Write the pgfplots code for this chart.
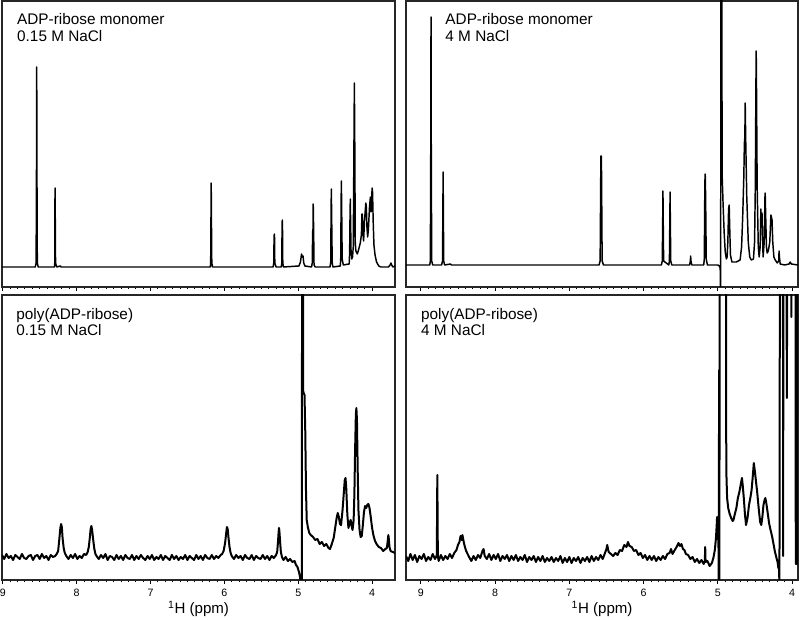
\documentclass[border=0pt]{standalone}
\usepackage{fontspec}
\setmainfont{Liberation Sans}
\usepackage{pgfplots}
\pgfplotsset{compat=1.18}

\pgfplotsset{
  nmr/.style={
    scale only axis,
    x dir=reverse,
    ymin=0,
    ytick=\empty,
    xtick={4,5,6,7,8,9},
    minor x tick num=9,
    xtick pos=left,
    tick align=outside,
    major tick length=3pt,
    minor tick length=1.6pt,
    axis line style={line width=0.9pt, black!85},
    every tick/.style={black, line width=0.6pt},
    /pgf/number format/assume math mode=true,
    xticklabel style={font=\fontsize{8}{9}\selectfont},
    xlabel style={at={(axis description cs:0.5,0)}, anchor=base, yshift=-25.5pt,
      font=\fontsize{11.3}{13}\selectfont},
    cycle list={{black, mark=none}},
  },
}
\tikzset{lbl/.style={anchor=north west, align=left, inner sep=0pt,
    font=\fontsize{11.5}{12.6}\selectfont}}

\begin{document}
\begin{tikzpicture}
\useasboundingbox (0,0) rectangle (600pt,465pt);

% top left: monomer, 0.15 M NaCl
\begin{axis}[nmr, at={(1.5pt,249.75pt)}, anchor=south west,
  width=294.75pt, height=214.5pt, xmin=3.69, xmax=9.01, ymax=286,
  xticklabels={}]
\addplot[black, line width=1.1pt, line join=round] coordinates {
(9.01,20)(8.70,20)(8.56,20)(8.548,24)(8.543,120)(8.540,220)(8.537,120)(8.532,24)(8.52,20)
(8.30,20)(8.296,24)(8.294,70)(8.292,99)(8.289,70)(8.285,24)(8.27,20)(8.22,21)(8.21,20)
(6.19,20)(6.185,24)(6.181,70)(6.178,104)(6.175,70)(6.17,24)(6.16,20)
(5.34,20)(5.331,24)(5.327,50)(5.324,53)(5.321,50)(5.317,24)(5.30,20)
(5.23,20)(5.222,24)(5.219,60)(5.216,67)(5.213,60)(5.209,24)(5.20,20)
(4.99,21)(4.97,25)(4.955,33)(4.945,30)(4.935,31)(4.925,24)(4.91,21)
(4.82,20)(4.81,24)(4.805,55)(4.800,58)(4.797,83)(4.792,60)(4.786,22)(4.77,20)
(4.57,20)(4.56,25)(4.555,75)(4.552,98)(4.548,75)(4.54,24)(4.53,20)
(4.43,21)(4.424,30)(4.420,80)(4.416,106)(4.412,80)(4.405,28)(4.39,22)
(4.31,23)(4.304,35)(4.299,70)(4.295,88)(4.291,65)(4.285,35)(4.275,28)(4.265,30)
(4.255,40)(4.245,150)(4.240,204)(4.235,150)(4.228,45)(4.22,36)(4.20,33)(4.18,38)
(4.16,44)(4.145,52)(4.137,73)(4.132,73)(4.125,55)(4.115,46)(4.103,66)(4.085,84)
(4.078,80)(4.07,60)(4.06,50)(4.05,58)(4.035,80)(4.023,90)(4.015,75)(4.008,82)
(4.000,99)(3.994,95)(3.985,65)(3.975,42)(3.96,32)(3.94,25)(3.91,21)(3.88,20)
(3.78,20)(3.755,22)(3.745,24)(3.735,22)(3.72,20)(3.69,21)
};
\node[lbl] at (rel axis cs:0.038,0.958) {ADP-ribose monomer\\0.15 M NaCl};
\end{axis}

% top right: monomer, 4 M NaCl
\begin{axis}[nmr, at={(304.5pt,249.75pt)}, anchor=south west,
  width=294pt, height=214.5pt, xmin=3.92, xmax=9.20, ymax=286,
  xticklabels={}]
\addplot[black, line width=1.1pt, line join=round] coordinates {
(9.20,22)(8.88,22)(8.872,26)(8.866,150)(8.863,270)(8.860,150)(8.854,26)(8.84,22)
(8.72,22)(8.708,26)(8.703,80)(8.700,115)(8.697,80)(8.692,26)(8.68,22)
(8.60,23)(8.59,22)
(6.60,22)(6.585,26)(6.578,100)(6.575,131)(6.571,125)(6.568,131)(6.565,100)(6.558,26)(6.54,22)
(5.76,22)(5.748,26)(5.742,70)(5.739,96)(5.736,70)(5.730,26)
(5.66,22)(5.652,26)(5.646,70)(5.643,95)(5.640,70)(5.634,26)(5.62,22)
(5.38,22)(5.37,26)(5.366,31)(5.362,26)(5.35,22)
(5.19,22)(5.182,28)(5.176,90)(5.172,113)(5.168,110)(5.163,80)(5.156,28)(5.14,22)
(5.00,22)(4.98,21)(4.968,19)(4.962,-10)(4.958,320)(4.948,320)(4.941,110)(4.93,85)
(4.915,55)(4.90,35)(4.885,28)(4.875,30)(4.865,45)(4.855,78)(4.847,82)(4.84,60)
(4.83,32)(4.81,25)(4.75,25)(4.70,27)(4.68,40)(4.665,70)(4.65,110)(4.642,144)
(4.636,150)(4.631,184)(4.625,150)(4.61,90)(4.59,45)(4.57,30)(4.55,27)(4.52,28)
(4.505,45)(4.495,100)(4.487,200)(4.483,236)(4.479,200)(4.47,100)(4.455,40)(4.443,30)
(4.43,40)(4.42,78)(4.412,60)(4.405,74)(4.398,50)(4.39,30)(4.375,45)(4.365,90)
(4.362,94)(4.355,70)(4.345,40)(4.335,34)(4.32,36)(4.30,45)(4.285,72)(4.278,70)
(4.27,67)(4.26,45)(4.245,30)(4.227,27)(4.20,24)(4.18,26)(4.175,36)(4.17,30)
(4.16,23)(4.10,22)(4.04,23)(4.025,25)(4.01,23)(3.92,22)
};
\node[lbl] at (rel axis cs:0.1,0.958) {ADP-ribose monomer\\4 M NaCl};
\end{axis}

% bottom left: polymer, 0.15 M NaCl
\begin{axis}[nmr, at={(1.5pt,30pt)}, anchor=south west,
  width=294.75pt, height=213.75pt, xmin=3.69, xmax=9.01, ymax=285,
  xlabel={\textsuperscript{1}H (ppm)}]
\addplot[black, line width=1.5pt, line join=round] coordinates {
(9.01,25)(8.98,21)(8.95,26)(8.92,22)(8.89,24)(8.86,20)(8.83,25)(8.80,23)(8.77,21)
(8.74,26)(8.71,22)(8.68,21)(8.65,24)(8.62,25)(8.59,20)(8.56,24)(8.53,25)(8.50,21)
(8.47,26)(8.44,22)(8.41,24)(8.38,20)(8.35,25)(8.32,23)(8.29,24)
(8.27,26)(8.25,29)(8.235,40)(8.22,52)(8.21,56)(8.20,53)(8.19,42)(8.175,32)(8.16,27)(8.14,24)
(8.11,21)(8.08,25)(8.05,22)(8.02,26)(7.99,21)(7.96,24)(7.93,22)(7.90,26)(7.87,25)
(7.85,28)(7.835,33)(7.82,43)(7.81,51)(7.80,54)(7.79,50)(7.775,40)(7.76,31)(7.745,26)(7.73,24)
(7.70,21)(7.67,25)(7.64,22)(7.61,26)(7.58,20)(7.55,24)(7.52,23)(7.49,20)(7.46,25)
(7.43,21)(7.40,24)(7.37,20)(7.34,25)(7.31,22)(7.28,21)(7.25,25)(7.22,20)(7.19,24)
(7.16,21)(7.13,25)(7.10,22)(7.07,20)(7.04,24)(7.01,21)(6.98,25)(6.95,20)(6.92,23)
(6.89,21)(6.86,25)(6.83,20)(6.80,24)(6.77,22)(6.74,20)(6.71,25)(6.68,21)(6.65,24)
(6.62,20)(6.59,23)(6.56,21)(6.53,25)(6.50,20)(6.47,24)(6.44,22)(6.41,20)(6.38,25)
(6.35,21)(6.32,24)(6.29,20)(6.26,25)(6.23,22)(6.20,21)(6.17,25)(6.14,21)(6.11,24)
(6.08,22)(6.05,25)
(6.03,26)(6.01,29)(5.99,37)(5.975,47)(5.965,53)(5.955,51)(5.945,43)(5.93,33)(5.915,27)(5.90,24)
(5.87,21)(5.84,25)(5.81,22)(5.78,24)(5.75,20)(5.72,25)(5.69,22)(5.66,21)(5.63,25)
(5.60,20)(5.57,24)(5.54,22)(5.51,21)(5.48,25)(5.45,21)(5.42,24)(5.39,20)(5.36,24)
(5.33,22)(5.30,25)
(5.285,28)(5.275,37)(5.265,48)(5.26,52)(5.255,49)(5.245,38)(5.235,28)(5.22,23)
(5.20,20)(5.17,23)(5.14,19)(5.11,21)(5.08,18)(5.05,19)(5.03,15)(5.01,13)(4.99,8)
(4.975,3)(4.962,-10)(4.952,-10)(4.948,300)(4.935,300)(4.932,188)(4.915,185)(4.905,150)
(4.895,90)(4.885,60)(4.87,53)(4.85,47)(4.83,45)(4.80,43)(4.77,40)(4.74,41)(4.71,36)
(4.68,38)(4.65,34)(4.62,36)(4.59,32)(4.57,31)(4.55,35)(4.52,42)(4.50,52)(4.48,62)
(4.465,67)(4.45,63)(4.435,56)(4.42,55)(4.40,70)(4.38,90)(4.37,100)(4.36,102)(4.35,92)
(4.335,65)(4.32,52)(4.30,58)(4.29,60)(4.28,55)(4.265,50)(4.25,60)(4.24,85)(4.23,130)
(4.22,165)(4.213,172)(4.205,160)(4.195,110)(4.185,70)(4.17,50)(4.155,43)(4.14,44)
(4.125,55)(4.11,68)(4.095,74)(4.08,72)(4.065,75)(4.05,76)(4.035,72)(4.02,64)(4.00,52)
(3.98,44)(3.96,39)(3.94,36)(3.91,33)(3.88,32)(3.85,29)(3.82,31)(3.80,32)(3.79,38)
(3.78,45)(3.775,42)(3.765,33)(3.75,29)(3.72,28)(3.69,27)
};
\node[lbl] at (rel axis cs:0.036,0.955) {poly(ADP-ribose)\\0.15 M NaCl};
\end{axis}

% bottom right: polymer, 4 M NaCl
\begin{axis}[nmr, at={(304.5pt,30pt)}, anchor=south west,
  width=294pt, height=213.75pt, xmin=3.92, xmax=9.20, ymax=285,
  xlabel={\textsuperscript{1}H (ppm)}]
\addplot[black, line width=1.5pt, line join=round] coordinates {
(9.20,24)(9.17,19)(9.14,26)(9.11,20)(9.08,25)(9.05,18)(9.02,24)(8.99,21)(8.96,26)
(8.93,19)(8.90,23)(8.87,20)(8.84,26)(8.81,21)(8.795,23)
(8.785,25)(8.781,70)(8.778,105)(8.775,70)(8.771,24)
(8.76,19)(8.73,25)(8.70,20)(8.67,24)(8.64,21)(8.61,26)(8.58,22)(8.55,27)
(8.52,30)(8.50,35)(8.48,38)(8.465,44)(8.45,40)(8.44,45)(8.425,39)(8.41,34)(8.39,29)
(8.37,26)(8.35,23)
(8.32,19)(8.29,24)(8.26,20)(8.23,25)(8.20,22)(8.17,29)(8.155,31)(8.14,24)(8.11,21)
(8.08,26)(8.05,20)(8.02,25)(7.99,21)(7.96,26)(7.93,19)(7.90,24)(7.87,21)(7.84,25)
(7.81,19)(7.78,24)(7.75,20)(7.72,25)(7.69,19)(7.66,23)(7.63,20)(7.60,25)(7.57,18)
(7.54,23)(7.51,20)(7.48,24)(7.45,18)(7.42,23)(7.39,19)(7.36,24)(7.33,18)(7.30,22)
(7.27,19)(7.24,23)(7.21,18)(7.18,22)(7.15,19)(7.12,24)(7.09,17)(7.06,22)(7.03,18)
(7.00,23)(6.97,17)(6.94,22)(6.91,19)(6.88,23)(6.85,17)(6.82,22)(6.79,19)(6.76,23)
(6.73,18)(6.70,24)(6.67,19)(6.64,23)(6.61,20)(6.58,25)(6.55,21)(6.52,27)(6.50,31)
(6.49,35)(6.47,28)(6.44,26)(6.41,24)(6.38,27)(6.35,25)(6.32,30)(6.29,29)(6.26,35)
(6.23,33)(6.21,38)(6.19,34)(6.16,33)(6.13,29)(6.10,30)(6.07,25)(6.04,27)(6.01,22)
(5.98,25)(5.95,20)(5.92,24)(5.89,20)(5.86,24)(5.83,19)(5.80,23)(5.77,20)(5.74,24)
(5.71,21)(5.68,26)(5.65,27)(5.63,31)(5.61,26)(5.58,30)(5.555,33)(5.53,37)(5.51,34)
(5.49,36)(5.47,31)(5.45,30)(5.43,26)(5.40,25)(5.37,21)(5.34,23)(5.31,18)(5.28,21)
(5.25,17)(5.22,20)(5.19,16)(5.175,19)(5.17,33)(5.165,18)(5.14,19)(5.11,14)(5.08,17)
(5.06,22)(5.04,30)(5.025,42)(5.015,55)(5.01,63)(5.005,48)(4.995,42)(4.99,30)
(4.987,-10)(4.983,210)(4.979,-10)(4.975,320)(4.89,320)(4.886,110)(4.875,82)(4.86,72)
(4.84,66)(4.82,62)(4.80,59)(4.79,60)(4.77,66)(4.75,72)(4.73,82)(4.71,88)(4.69,96)
(4.675,102)(4.665,95)(4.65,82)(4.635,66)(4.62,55)(4.60,62)(4.58,75)(4.56,83)(4.545,90)
(4.53,103)(4.515,117)(4.50,108)(4.485,98)(4.47,88)(4.45,72)(4.43,58)(4.415,55)(4.40,63)
(4.385,75)(4.37,80)(4.36,82)(4.345,76)(4.33,68)(4.31,57)(4.29,50)(4.27,44)(4.25,36)
(4.23,28)(4.21,22)(4.195,18)(4.185,12)(4.175,14)(4.17,-10)(4.164,330)(4.123,330)
(4.12,24)(4.117,330)(4.075,330)(4.07,182)(4.065,330)(4.013,330)(4.01,263)(4.007,330)
(3.953,330)(3.95,16)(3.935,16)(3.932,330)(3.92,330)
};
\node[lbl] at (rel axis cs:0.038,0.955) {poly(ADP-ribose)\\4 M NaCl};
\end{axis}
\end{tikzpicture}
\end{document}
